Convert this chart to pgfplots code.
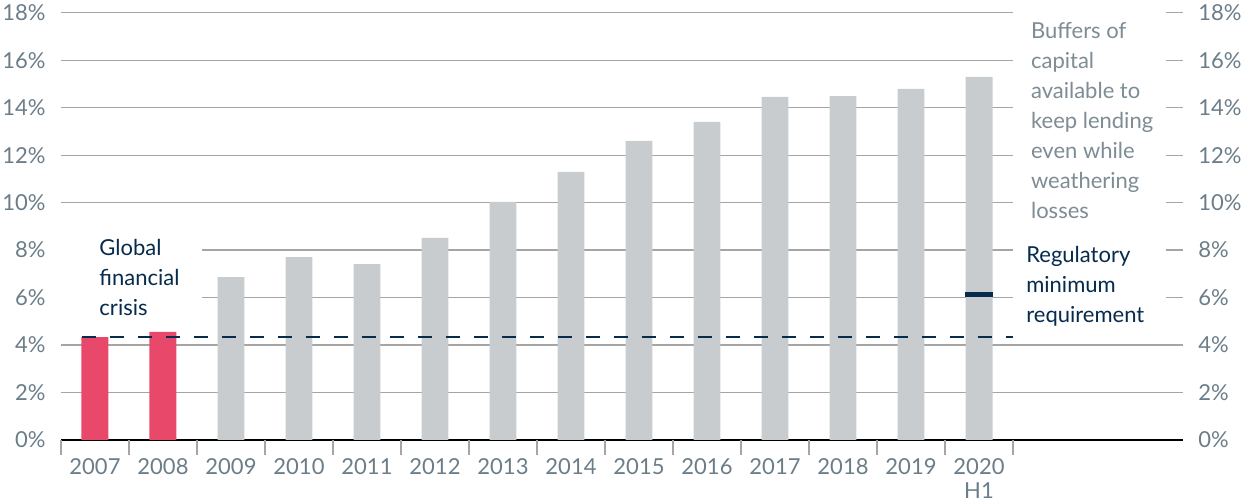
\documentclass[border=0pt]{standalone}
\usepackage{pgfplots}
\pgfplotsset{compat=1.18}
\usepackage{fontspec}
\setmainfont{Lato}
\definecolor{barred}{HTML}{E8496A}
\definecolor{bargrey}{HTML}{C8CCCF}
\definecolor{navy}{HTML}{062B4D}
\definecolor{ticktext}{HTML}{6A7D88}
\definecolor{notegrey}{HTML}{7E8C94}
\definecolor{gridgrey}{HTML}{A5A5A5}
\begin{document}
\fontsize{11}{15}\selectfont
\begin{tikzpicture}
\begin{axis}[
  scale only axis, width=561pt, height=213.65pt,
  xmin=-0.5, xmax=16, ymin=0, ymax=18,
  axis x line*=bottom, axis y line*=left,
  y axis line style={draw=none},
  x axis line style={black, line width=1.2pt, -},
  ytick={0,2,...,18},
  yticklabels={0\%,2\%,4\%,6\%,8\%,10\%,12\%,14\%,16\%,18\%},
  ymajorgrids, major grid style={color=gridgrey, line width=0.6pt},
  major tick length=0pt,
  xtick={0,...,13},
  xticklabels={2007,2008,2009,2010,2011,2012,2013,2014,2015,2016,2017,2018,2019,{2020\\H1}},
  xticklabel style={align=center, inner sep=0pt, yshift=-9pt, text=ticktext, anchor=north, font=\fontsize{11}{12}\selectfont},
  yticklabel style={inner sep=0pt, xshift=-7.5pt, text=ticktext, anchor=east},
  extra x ticks={-0.5,0.5,...,13.5}, extra x tick labels={},
  extra x tick style={major tick length=7.5pt, tick align=outside, tick style={gridgrey, line width=0.6pt}},
  clip=false,
]
\fill[white] (axis cs:13.5,4.75) rectangle (axis cs:15.75,18.2);
\fill[white] (axis cs:-0.5,4.5) rectangle (axis cs:1.57,9.2);
\addplot[ybar, bar width=0.397, bar shift=0pt, fill=barred, draw=none] coordinates {(0,4.33)(1,4.55)};
\addplot[ybar, bar width=0.397, bar shift=0pt, fill=bargrey, draw=none] coordinates {
(2,6.86)(3,7.70)(4,7.41)(5,8.51)(6,10.03)(7,11.29)(8,12.60)(9,13.40)(10,14.45)(11,14.49)(12,14.79)(13,15.30)};
\addplot[navy, line width=1pt, dash pattern=on 7pt off 7pt] coordinates {(-0.19,4.33)(13.5,4.33)};
\addplot[navy, line width=2.5pt] coordinates {(12.8,6.11)(13.2,6.11)};
\node[anchor=north west, inner sep=0pt, align=left, text=navy] at (axis cs:0.06,8.47) {Global\\financial\\crisis};
\node[anchor=north west, inner sep=0pt, align=left, text=navy] at (axis cs:13.69,8.19) {Regulatory\\minimum\\requirement};
\node[anchor=north west, inner sep=0pt, align=left, text=notegrey] at (axis cs:13.76,17.59) {Buffers of\\capital\\available to\\keep lending\\even while\\weathering\\losses};
\end{axis}
\begin{axis}[
  scale only axis, width=561pt, height=213.65pt,
  xmin=-0.5, xmax=16, ymin=0, ymax=18,
  hide x axis, axis y line*=right,
  y axis line style={draw=none},
  major tick length=0pt,
  ytick={0,2,...,18},
  yticklabels={0\%,2\%,4\%,6\%,8\%,10\%,12\%,14\%,16\%,18\%},
  yticklabel style={inner sep=0pt, xshift=7.5pt, text=ticktext, anchor=west},
]
\addplot[draw=none] coordinates {(0,0)};
\end{axis}
\pgfresetboundingbox
\path (-30.5pt,-31pt) rectangle (591.5pt,220pt);
\end{tikzpicture}
\end{document}
